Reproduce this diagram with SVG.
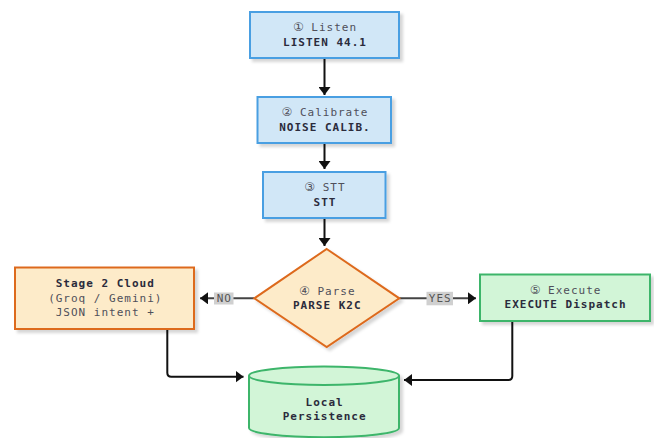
<svg xmlns="http://www.w3.org/2000/svg" width="654" height="438" viewBox="0 0 654 438">
  <defs>
    <filter id="shadow" x="-10%" y="-10%" width="130%" height="140%">
      <feDropShadow dx="3" dy="3" stdDeviation="1.4" flood-color="#000" flood-opacity="0.16"/>
    </filter>
    <marker id="arrow" viewBox="0 0 8 12" refX="8" refY="6" markerWidth="4" markerHeight="6" markerUnits="strokeWidth" orient="auto">
      <path d="M0,0 L8,6 L0,12 Z" fill="#111"/>
    </marker>
  </defs>
  <style>
    text { font-family: "DejaVu Sans Mono", "Liberation Mono", monospace; font-size: 11px; letter-spacing: 1px; text-anchor: middle; }
    .num { font-family: "DejaVu Sans", sans-serif; font-size: 12px; letter-spacing: 0; }
    .sub { fill: #4f4f5a; }
    .main { fill: #2b2b3c; font-weight: bold; }
    .blue { fill: #d1e7f7; stroke: #4a9fe2; stroke-width: 2; filter: url(#shadow); }
    .orange { fill: #fdebc9; stroke: #dd6a1e; stroke-width: 2; filter: url(#shadow); }
    .green { fill: #d2f5d7; stroke: #3db56b; stroke-width: 2; filter: url(#shadow); }
    .edge { fill: none; stroke: #111; stroke-width: 2; marker-end: url(#arrow); }
    .branch { fill: none; stroke: #444; stroke-width: 2; marker-end: url(#arrow); }
    .tag { fill: #d0d0d0; }
    .tagtext { fill: #555; }
  </style>

  <!-- connectors -->
  <g id="connectors">
    <path class="edge" d="M324.5,58 V95"/>
    <path class="edge" d="M324.5,143 V169"/>
    <path class="edge" d="M324.5,218 V246"/>
    <path class="branch" d="M254.3,298.3 H200"/>
    <path class="branch" d="M399.3,298.3 H476"/>
    <path class="edge" d="M167.3,329 V372.7 Q167.3,376.7 171.3,376.7 H243.5"/>
    <path class="edge" d="M512.3,321 V376 Q512.3,380 508.3,380 H404"/>
    <rect class="tag" x="214" y="292.5" width="19.5" height="12"/>
    <text class="tagtext" x="224.3" y="302.3">NO</text>
    <rect class="tag" x="426.5" y="291.8" width="26.5" height="13.5"/>
    <text class="tagtext" x="440.3" y="302.3">YES</text>
  </g>

  <!-- step 1: listen -->
  <g id="listen">
    <rect class="blue" x="250" y="12" width="149" height="46"/>
    <text class="sub" x="325" y="30.5"><tspan class="num">①</tspan> Listen</text>
    <text class="main" x="325" y="46">LISTEN 44.1</text>
  </g>

  <!-- step 2: calibrate -->
  <g id="calibrate">
    <rect class="blue" x="257.5" y="97" width="133.5" height="46"/>
    <text class="sub" x="325" y="116"><tspan class="num">②</tspan> Calibrate</text>
    <text class="main" x="325" y="131">NOISE CALIB.</text>
  </g>

  <!-- step 3: speech to text -->
  <g id="stt">
    <rect class="blue" x="263" y="172" width="122.5" height="46"/>
    <text class="sub" x="325" y="190.5"><tspan class="num">③</tspan> STT</text>
    <text class="main" x="325" y="205.5">STT</text>
  </g>

  <!-- step 4: parse decision -->
  <g id="parse">
    <polygon class="orange" points="326.7,249 399.3,298.3 326.7,347 254.3,298.3"/>
    <text class="sub" x="327.3" y="294.5"><tspan class="num">④</tspan> Parse</text>
    <text class="main" x="327.3" y="309">PARSE K2C</text>
  </g>

  <!-- fallback: cloud stage -->
  <g id="cloud">
    <rect class="orange" x="15" y="267.5" width="179" height="61.5"/>
    <text class="main" x="105.3" y="287">Stage 2 Cloud</text>
    <text class="sub" x="105.3" y="301.5">(Groq / Gemini)</text>
    <text class="sub" x="105.3" y="316">JSON intent +</text>
  </g>

  <!-- step 5: execute -->
  <g id="execute">
    <rect class="green" x="480" y="274.5" width="170" height="46.5"/>
    <text class="sub" x="565.6" y="294"><tspan class="num">⑤</tspan> Execute</text>
    <text class="main" x="565.6" y="308">EXECUTE Dispatch</text>
  </g>

  <!-- storage -->
  <g id="persistence">
    <path class="green" d="M249,375.7 A75,9.2 0 0 1 399,375.7 V428 A75,9.2 0 0 1 249,428 Z"/>
    <path d="M249,375.7 A75,9.2 0 0 0 399,375.7" fill="none" stroke="#3db56b" stroke-width="2"/>
    <text class="main" x="324.6" y="406">Local</text>
    <text class="main" x="324.6" y="419.5">Persistence</text>
  </g>
</svg>
